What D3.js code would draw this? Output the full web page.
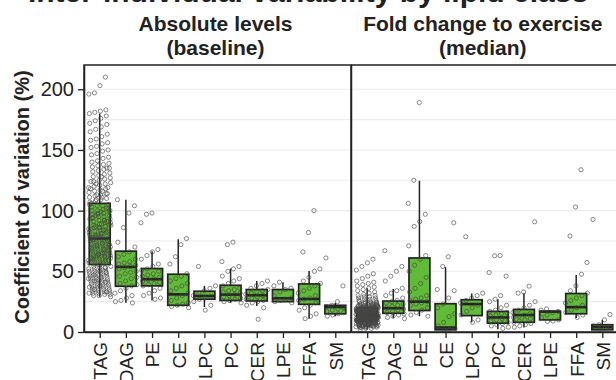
<!DOCTYPE html>
<html>
<head>
<meta charset="utf-8">
<script src="https://cdn.jsdelivr.net/npm/d3@7"></script>
<style>
  body { margin: 0; background: #fff; }
  svg { display: block; font-family: "Liberation Sans", Arial, Helvetica, sans-serif; }
</style>
</head>
<body>
<svg id="chart" width="616" height="380"></svg>
<script>
// Lipid classes shown along the x axis of both panels
const classes = ["TAG", "DAG", "PE", "CE", "LPC", "PC", "CER", "LPE", "FFA", "SM"];
const panelTitles = [["Absolute levels", "(baseline)"], ["Fold change to exercise", "(median)"]];
const yTicks = [0, 50, 100, 150, 200];
const gridValues = [25, 50, 75, 100, 125, 150, 175, 200];
const chartTitle = "Inter-individual variability by lipid class";

// Box summaries, absolute levels (baseline): whisker ends, quartiles and median (CV %)
const baseLo  = [29, 24, 26, 21, 20.6, 24, 21.5, 25, 11, 13];
const baseQ1  = [55.6, 37.7, 38, 22, 27, 26, 25.6, 25, 22.8, 15];
const baseMed = [77, 53.6, 43.5, 31, 29.7, 30.8, 30.3, 27.8, 27.2, 20.6];
const baseQ3  = [106, 66.6, 52.3, 47.6, 33.6, 38.5, 35, 35, 39.6, 22];
const baseHi  = [180, 109, 66.6, 76.5, 38, 52.3, 42, 41, 50.3, 24];

// Box summaries, fold change to exercise (median)
const foldLo  = [2, 11.5, 13, 1.5, 8, 2.3, 3.8, 8.8, 11.5, 1.5];
const foldQ1  = [9, 15.4, 17.7, 1.8, 13.5, 7.3, 8, 10, 15, 1.8];
const foldMed = [14, 19.6, 25, 3.7, 23, 12, 14, 16.8, 20.5, 4];
const foldQ3  = [20, 25.5, 61, 23.3, 26.6, 17, 18.6, 17, 31.7, 6];
const foldHi  = [36, 35.5, 124.6, 53.4, 31.7, 27, 32, 17.5, 47, 10];

// Individual lipid species CV values, absolute levels
const baseTAG = [210,203,197,196,183,182,181,180,178,176,174,172,171,169,167,165,163,161,159,158,156,155,153,152,150,149,147,146,144,143,141,140,139,138,137,136,135,134,133,132,131,130,129,128,127,126,125,124,123,122,121,120,119,118,117,116,115,114,113,112,111,110,109,108,107,135,128,122,118,114,111,109,124,119,116,113,
  106,105,104,104,103,102,101,100,100,99,98,98,97,96,95,95,94,93,92,92,91,90,90,89,88,88,87,86,86,85,84,84,83,82,82,81,80,80,79,79,78,78,77,77,76,76,75,75,74,74,73,73,72,72,71,71,70,70,69,69,68,68,67,67,66,66,65,65,64,64,63,63,62,62,61,61,60,60,59,59,58,58,57,57,56,56,105,102,99,96,93,91,89,87,85,83,81,79,77,75,73,71,69,67,65,63,61,59,57,97,94,88,84,80,76,72,68,64,60,100,92,86,78,70,62,
  55,54,54,53,53,52,52,51,51,50,50,49,49,48,48,47,47,46,46,45,45,44,44,43,43,42,42,41,41,40,40,39,39,38,38,37,37,36,36,35,35,34,34,33,33,32,32,31,31,30,30,29,53,50,47,44,41,38,35,32,49,45,42,37,33];
const baseDAG = [109,104,98,86,74,70,66,64,62,60,58,57,56,55,54,53,52,50,49,48,46,45,44,42,40,39,38,36,34,32,30,28,26,25,24];
const basePE  = [98,97,90,68,66,63,60,56,54,52,51,50,48,47,46,45,44,43,42,41,40,39,38,36,34,32,30,28,27];
const baseCE  = [77,72,62,56,48,46,44,42,40,38,36,34,32,30,28,26,24,23,22,21,20];
const baseLPC = [54,38,36,34,32,30,29,28,27,25,22,18];
const basePC  = [74,72,58,54,52,50,46,44,42,40,38,36,35,34,33,32,31,30,29,28,27,26,25,24];
const baseCER = [42,40,38,36,35,34,33,32,31,30,29,28,27,26,25,24,22,20,10.5];
const baseLPE = [41,38,36,35,33,30,28,27,26,25,24];
const baseFFA = [100,82,66,52,50,45,42,40,38,36,34,32,30,28,27,26,24,22,20,18,15,13,11];
const baseSM  = [61,38,25,22,21,20,19,18,17,16,15,14,13];

// Individual lipid species CV values, fold change to exercise
const foldTAG = [60,57,54,51,48,46,44,42,41,40,39,38,37,36,35,34,33,32,31,30,30,29,29,28,28,27,27,26,26,25,25,25,24,24,24,23,23,23,22,22,22,22,21,21,21,21,20,20,20,20,20,19,19,19,19,19,18,18,18,18,18,18,17,17,17,17,17,17,16,16,16,16,16,16,16,15,15,15,15,15,15,15,14,14,14,14,14,14,14,13,13,13,13,13,13,13,12,12,12,12,12,12,12,11,11,11,11,11,11,10,10,10,10,10,10,9,9,9,9,9,8,8,8,8,8,7,7,7,7,6,6,6,6,5,5,5,4,4,4,3,3,2,
  21.5,19.5,17.5,15.5,13.5,11.5,9.5,7.5,5.5,20.5,18.5,16.5,14.5,12.5,10.5,8.5,6.5,4.5,22.5,19.8,17.2,15.8,13.2,11.8,9.2,7.8,5.8,20.8,18.2,16.8,14.2,12.8,10.2,8.2,6.8,23.5,21.2,18.8,16.2,14.8,12.2,10.8,9.8,7.2,6.2,24.5,19.2,17.8,15.2,13.8,11.2,9.6,8.6,7.6,5.2,4.2,3.6,
  20.2,18.7,17.4,16.1,14.6,13.3,12.1,10.6,9.4,8.1,6.6,5.4,19.6,18.1,16.7,15.4,14.1,12.6,11.4,10.1,8.7,7.4,6.1,4.7,21.7,20.1,18.4,17.1,15.7,14.4,13.1,11.7,10.4,9.1,7.7,6.4,5.1,22.1,19.1,16.4,13.7,11.1,8.4,5.7,
  18.9,17.6,16.3,15.1,13.9,12.4,11.3,10.3,9.3,8.3,7.3,6.3,5.3,4.3,23.1,21.1,19.3,17.3,15.3,13.4,11.6,9.7,7.9,6.9];
const foldDAG = [67,54,50,46,42,36,34,32,30,28,26,25,24,23,22,21,20,19,18,17,16,15,14,13,12,11];
const foldPE  = [189,125,106,97,91,87,71,63,60,55,50,45,40,36,33,30,28,27,26,25,24,23,22,20,18,16,14,13];
const foldCE  = [90,62,54,35,34,28,23,20,15,12.7,8,5,3,2,1.5];
const foldLPC = [78.5,32,30,28,26,24,22,20,17,14,10,8];
const foldPC  = [63,62.8,49,46,30,27,25,22,20,18,17,16,15,14,13,12,11,10,9,8,7,6,5,4,3];
const foldCER = [90.8,37.8,33,32,25,22,20,18,16,15,14,13,12,11,10,9,8,7,6,5,4];
const foldLPE = [19,18,17,16,14,12,10,9,8.8];
const foldFFA = [133.7,103,79,57.3,47.6,38,34,32,30,28,26,24,22,20,18,16,14,12];
const foldSM  = [92.7,14.4,10,6,5,4,3,2];

const panels = [
  { x0: 84, x1: 351, title: panelTitles[0],
    lo: baseLo, q1: baseQ1, med: baseMed, q3: baseQ3, hi: baseHi,
    points: [baseTAG, baseDAG, basePE, baseCE, baseLPC, basePC, baseCER, baseLPE, baseFFA, baseSM] },
  { x0: 351.5, x1: 618, title: panelTitles[1],
    lo: foldLo, q1: foldQ1, med: foldMed, q3: foldQ3, hi: foldHi,
    points: [foldTAG, foldDAG, foldPE, foldCE, foldLPC, foldPC, foldCER, foldLPE, foldFFA, foldSM] }
];

const svg = d3.select("#chart");
const y = d3.scaleLinear().domain([0, 220]).range([332, 65]);
const boxFill = "#60bb36";
const ink = "#222";

// Chart title, sitting mostly above the visible area
svg.append("text")
  .attr("x", 308).attr("y", 2)
  .attr("text-anchor", "middle")
  .attr("font-size", 30).attr("font-weight", "bold").attr("fill", ink)
  .text(chartTitle);

panels.forEach((p, pi) => {
  const x = d3.scalePoint().domain(classes).range([p.x0, p.x1]).padding(0.6);
  const step = x.step();
  const boxW = step * 0.8;
  const g = svg.append("g");

  // horizontal grid
  g.selectAll("line.grid").data(gridValues).join("line")
    .attr("x1", p.x0).attr("x2", p.x1)
    .attr("y1", d => y(d)).attr("y2", d => y(d))
    .attr("stroke", "#ebebeb").attr("stroke-width", 1.1);

  const stats = classes.map((c, i) => ({ c, lo: p.lo[i], q1: p.q1[i], med: p.med[i], q3: p.q3[i], hi: p.hi[i] }));

  // whiskers
  g.selectAll("line.whisk-hi").data(stats).join("line")
    .attr("x1", d => x(d.c)).attr("x2", d => x(d.c))
    .attr("y1", d => y(d.q3)).attr("y2", d => y(d.hi))
    .attr("stroke", ink).attr("stroke-width", 1.5);
  g.selectAll("line.whisk-lo").data(stats).join("line")
    .attr("x1", d => x(d.c)).attr("x2", d => x(d.c))
    .attr("y1", d => y(d.q1)).attr("y2", d => y(d.lo))
    .attr("stroke", ink).attr("stroke-width", 1.5);

  // boxes
  g.selectAll("rect.box").data(stats).join("rect")
    .attr("x", d => x(d.c) - boxW / 2).attr("width", boxW)
    .attr("y", d => y(d.q3)).attr("height", d => y(d.q1) - y(d.q3))
    .attr("fill", boxFill).attr("stroke", ink).attr("stroke-width", 1.7);

  // medians
  g.selectAll("line.med").data(stats).join("line")
    .attr("x1", d => x(d.c) - boxW / 2).attr("x2", d => x(d.c) + boxW / 2)
    .attr("y1", d => y(d.med)).attr("y2", d => y(d.med))
    .attr("stroke", ink).attr("stroke-width", 2.6);

  // jittered species points (evenly spread offsets)
  const pts = [];
  p.points.forEach((vals, ci) => {
    vals.forEach((v, j) => {
      const frac = ((j + 1) * 0.7548776662 + ci * 0.37) % 1;
      pts.push({ cx: x(classes[ci]) + (frac - 0.5) * step * 0.86, v });
    });
  });
  g.selectAll("circle.pt").data(pts).join("circle")
    .attr("cx", d => d.cx).attr("cy", d => y(d.v)).attr("r", 2.1)
    .attr("fill", "none").attr("stroke", "#444").attr("stroke-opacity", 0.7).attr("stroke-width", 0.9);

  // panel border (top and sides)
  g.append("rect")
    .attr("x", p.x0).attr("y", 65).attr("width", p.x1 - p.x0).attr("height", 267)
    .attr("fill", "none").attr("stroke", ink).attr("stroke-width", 1.5);

  // x axis with rotated class labels
  const xa = svg.append("g").attr("transform", "translate(0,332)")
    .call(d3.axisBottom(x).tickSize(6).tickSizeOuter(0));
  xa.select(".domain").attr("stroke", ink).attr("stroke-width", 1.5);
  xa.selectAll(".tick line").attr("stroke", ink).attr("stroke-width", 1.3);
  xa.selectAll(".tick text")
    .attr("transform", "rotate(-90)")
    .attr("text-anchor", "end")
    .attr("x", -10).attr("y", 0).attr("dy", "0.36em")
    .attr("font-size", 19).attr("fill", ink)
    .style("font-family", "'Liberation Sans', Arial, sans-serif");

  // facet strip titles
  const tx = (p.x0 + p.x1) / 2 - 2;
  svg.append("text").attr("x", tx).attr("y", 31)
    .attr("text-anchor", "middle").attr("font-size", 21).attr("font-weight", "bold").attr("fill", ink)
    .text(p.title[0]);
  svg.append("text").attr("x", tx).attr("y", 55)
    .attr("text-anchor", "middle").attr("font-size", 21).attr("font-weight", "bold").attr("fill", ink)
    .text(p.title[1]);
});

// y axis
const ya = svg.append("g").attr("transform", "translate(84,0)")
  .call(d3.axisLeft(y).tickValues(yTicks).tickSize(6).tickPadding(4).tickSizeOuter(0));
ya.select(".domain").attr("stroke", ink).attr("stroke-width", 1.5);
ya.selectAll(".tick line").attr("stroke", ink).attr("stroke-width", 1.3);
ya.selectAll(".tick text").attr("font-size", 20).attr("fill", ink)
  .style("font-family", "'Liberation Sans', Arial, sans-serif");

// y axis title
svg.append("text")
  .attr("transform", "translate(29,197) rotate(-90)")
  .attr("text-anchor", "middle").attr("font-size", 20).attr("font-weight", "bold").attr("fill", ink)
  .text("Coefficient of variation (%)");
</script>
</body>
</html>
